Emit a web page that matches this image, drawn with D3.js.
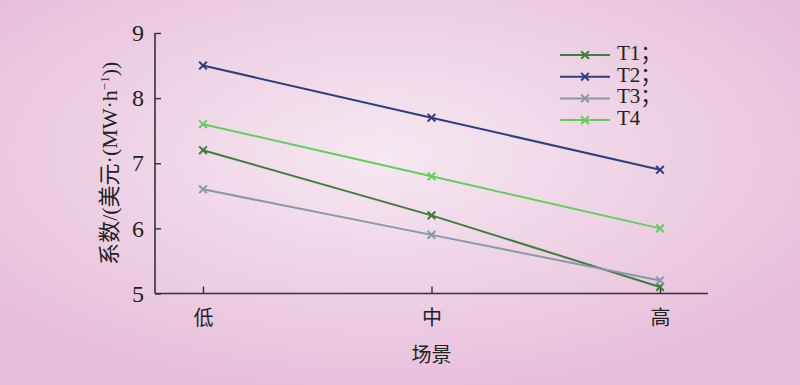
<!DOCTYPE html>
<html>
<head>
<meta charset="utf-8">
<script src="https://cdn.jsdelivr.net/npm/d3@7"></script>
<style>
  body { margin: 0; }
  svg { display: block; }
  text { font-family: "Liberation Serif", "Noto Sans CJK SC", serif; fill: #222; }
</style>
</head>
<body>
<div id="chart"></div>
<script>
  var categories = ["低", "中", "高"];
  var seriesNames = ["T1；", "T2；", "T3；", "T4"];
  var t1 = [7.2, 6.2, 5.1];
  var t2 = [8.5, 7.7, 6.9];
  var t3 = [6.6, 5.9, 5.2];
  var t4 = [7.6, 6.8, 6.0];
  var yTicks = [5, 6, 7, 8, 9];
  var colors = ["#3f7d3b", "#2c3f80", "#8899a6", "#62cf5c"];

  var W = 800, H = 385;
  var svg = d3.select("#chart").append("svg")
    .attr("width", W)
    .attr("height", H);

  // pink background, lighter in the middle
  var defs = svg.append("defs");
  var grad = defs.append("radialGradient")
    .attr("id", "bg")
    .attr("cx", "48%").attr("cy", "40%").attr("r", "65%");
  grad.append("stop").attr("offset", "0%").attr("stop-color", "#f6e8f1");
  grad.append("stop").attr("offset", "100%").attr("stop-color", "#e7bdda");
  svg.append("rect").attr("width", W).attr("height", H).attr("fill", "url(#bg)");

  var mLeft = 155, mRight = 708, mTop = 33, mBottom = 293.5;

  var x = d3.scalePoint().domain(categories).range([mLeft, mRight]).padding(0.21);
  var y = d3.scaleLinear().domain([5, 9]).range([mBottom, mTop]);

  var series = [t1, t2, t3, t4].map(function (vals, i) {
    return { name: seriesNames[i], color: colors[i], values: vals };
  });

  // axes
  var xAxis = svg.append("g")
    .attr("transform", "translate(0," + mBottom + ")")
    .call(d3.axisBottom(x).tickSize(-7).tickPadding(17));
  xAxis.select(".domain").attr("d", "M" + mLeft + ",0H" + mRight);

  var yAxis = svg.append("g")
    .attr("transform", "translate(" + mLeft + ",0)")
    .call(d3.axisLeft(y).tickValues(yTicks).tickSize(-6).tickPadding(11).tickFormat(d3.format("d")));
  yAxis.select(".domain").attr("d", "M0," + mTop + "V" + mBottom);

  svg.selectAll(".domain").attr("stroke", "#333").attr("stroke-width", 1.6);
  svg.selectAll(".tick line").attr("stroke", "#333").attr("stroke-width", 1.4);
  svg.selectAll(".tick text")
    .style("font-family", "'Liberation Serif', 'Noto Sans CJK SC', serif")
    .style("font-size", "24px")
    .attr("fill", "#222");
  xAxis.selectAll(".tick text").style("font-size", "20px");

  // axis titles
  svg.append("text")
    .attr("x", x("中"))
    .attr("y", 362)
    .attr("text-anchor", "middle")
    .style("font-size", "20px")
    .text("场景");

  var yTitle = svg.append("text")
    .attr("transform", "translate(117," + (mTop + mBottom) / 2 + ") rotate(-90)")
    .attr("text-anchor", "middle")
    .style("font-size", "22px");
  yTitle.append("tspan").text("系数/(美元·(MW·h");
  yTitle.append("tspan").attr("dy", -8).style("font-size", "13px").text("−1");
  yTitle.append("tspan").attr("dy", 8).text("))");

  // lines and markers
  var line = d3.line()
    .x(function (d, i) { return x(categories[i]); })
    .y(function (d) { return y(d); });

  var cross = d3.symbol().type(d3.symbolX).size(40);

  series.forEach(function (s) {
    svg.append("path")
      .datum(s.values)
      .attr("d", line)
      .attr("fill", "none")
      .attr("stroke", s.color)
      .attr("stroke-width", 2);

    svg.selectAll(null)
      .data(s.values)
      .enter().append("path")
      .attr("d", cross)
      .attr("transform", function (d, i) {
        return "translate(" + x(categories[i]) + "," + y(d) + ")";
      })
      .attr("fill", "none")
      .attr("stroke", s.color)
      .attr("stroke-width", 2);
  });

  // legend
  var legend = svg.append("g").attr("transform", "translate(560,55)");
  var row = legend.selectAll("g")
    .data(series)
    .enter().append("g")
    .attr("transform", function (d, i) { return "translate(0," + i * 21.7 + ")"; });
  row.append("line")
    .attr("x1", 0).attr("x2", 50)
    .attr("stroke", function (d) { return d.color; })
    .attr("stroke-width", 2);
  row.append("path")
    .attr("d", cross)
    .attr("transform", "translate(25,0)")
    .attr("fill", "none")
    .attr("stroke", function (d) { return d.color; })
    .attr("stroke-width", 2);
  row.append("text")
    .attr("x", 57)
    .attr("y", 5)
    .style("font-size", "21px")
    .text(function (d) { return d.name; });
</script>
</body>
</html>
